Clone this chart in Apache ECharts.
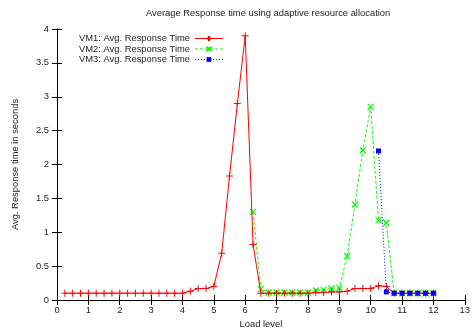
<!DOCTYPE html>
<html>
<head>
<meta charset="utf-8">
<script src="https://cdn.jsdelivr.net/npm/echarts@6/dist/echarts.min.js"></script>
<style>
  html, body { margin: 0; padding: 0; background: #fff; }
  #chart { width: 473px; height: 335px; }
</style>
</head>
<body>
<div id="chart"></div>
<script>
// load levels + response times
var vm1X = [0.25, 0.5, 0.75, 1, 1.25, 1.5, 1.75, 2, 2.25, 2.5, 2.75, 3, 3.25, 3.5, 3.75, 4,
  4.25, 4.5, 4.75, 5, 5.25, 5.5, 5.75, 6, 6.25, 6.5, 6.75, 7, 7.25, 7.5, 7.75, 8,
  8.25, 8.5, 8.75, 9, 9.25, 9.5, 9.75, 10, 10.25, 10.5, 10.75, 11, 11.25, 11.5, 11.75, 12];
var vm1Y = [0.1, 0.1, 0.1, 0.1, 0.1, 0.1, 0.1, 0.1, 0.1, 0.1, 0.1, 0.1, 0.1, 0.1, 0.1, 0.1,
  0.13, 0.17, 0.17, 0.2, 0.69, 1.83, 2.9, 3.9, 0.82, 0.1, 0.1, 0.1, 0.1, 0.1, 0.1, 0.1,
  0.11, 0.11, 0.12, 0.12, 0.13, 0.17, 0.17, 0.17, 0.21, 0.2, 0.1, 0.1, 0.1, 0.1, 0.1, 0.1];

var vm2X = [6.25, 6.5, 6.75, 7, 7.25, 7.5, 7.75, 8, 8.25, 8.5, 8.75, 9, 9.25, 9.5, 9.75, 10,
  10.25, 10.5, 10.75, 11, 11.25, 11.5, 11.75, 12];
var vm2Y = [1.3, 0.16, 0.11, 0.11, 0.11, 0.11, 0.11, 0.11, 0.14, 0.15, 0.17, 0.18, 0.65, 1.41, 2.21, 2.85,
  1.18, 1.14, 0.1, 0.1, 0.1, 0.1, 0.1, 0.1];

var vm3X = [10.25, 10.5, 10.75, 11, 11.25, 11.5, 11.75, 12];
var vm3Y = [2.2, 0.12, 0.1, 0.1, 0.1, 0.1, 0.1, 0.1];

var seriesNames = ['VM1: Avg. Response Time', 'VM2: Avg. Response Time', 'VM3: Avg. Response Time'];

function pairs(xs, ys) {
  return xs.map(function (x, i) { return [x, ys[i]]; });
}

var font = 'Liberation Sans, Arial, sans-serif';
var fs = 9.4;
var plusPath = 'path://M0,5L10,5M5,0L5,10';
var crossPath = 'path://M0,0L10,10M10,0L0,10';

var chart = echarts.init(document.getElementById('chart'));
var option = {
  animation: false,
  backgroundColor: '#fff',
  title: {
    text: 'Average Response time using adaptive resource allocation',
    left: 141,
    top: 4,
    textStyle: { fontSize: fs, fontWeight: 'normal', color: '#222', fontFamily: font }
  },
  legend: {
    data: seriesNames,
    orient: 'vertical',
    left: 74,
    top: 29,
    align: 'right',
    itemWidth: 28,
    itemHeight: 6,
    itemGap: 1.5,
    lineStyle: { width: 1 },
    textStyle: { fontSize: fs, color: '#222', fontFamily: font, lineHeight: 8 }
  },
  grid: { left: 57, right: 5, top: 29, bottom: 35 },
  xAxis: [
    {
      type: 'value', min: 0, max: 13, interval: 1,
      name: 'Load level', nameLocation: 'middle', nameGap: 20,
      nameTextStyle: { fontSize: fs, color: '#222', fontFamily: font },
      axisLine: { onZero: false, lineStyle: { color: '#000', width: 1 } },
      axisTick: { inside: true, length: 5, lineStyle: { color: '#000' } },
      axisLabel: { fontSize: fs, color: '#222', fontFamily: font, margin: 6 },
      splitLine: { show: false }
    },
    {
      type: 'value', min: 0, max: 13, interval: 1, position: 'top',
      axisLine: { lineStyle: { color: '#000', width: 1 } },
      axisTick: { inside: true, length: 5, lineStyle: { color: '#000' } },
      axisLabel: { show: false },
      splitLine: { show: false }
    }
  ],
  yAxis: [
    {
      type: 'value', min: 0, max: 4, interval: 0.5,
      name: 'Avg. Response time in seconds', nameLocation: 'middle', nameGap: 37,
      nameTextStyle: { fontSize: fs, color: '#222', fontFamily: font },
      axisLine: { show: true, lineStyle: { color: '#000', width: 1 } },
      axisTick: { show: true, inside: true, length: 5, lineStyle: { color: '#000' } },
      axisLabel: { fontSize: fs, color: '#222', fontFamily: font, margin: 8 },
      splitLine: { show: false }
    },
    {
      type: 'value', min: 0, max: 4, interval: 0.5, position: 'right',
      axisLine: { show: true, lineStyle: { color: '#000', width: 1 } },
      axisTick: { show: true, inside: true, length: 5, lineStyle: { color: '#000' } },
      axisLabel: { show: false },
      splitLine: { show: false }
    }
  ],
  series: [
    {
      name: seriesNames[0],
      type: 'line',
      data: pairs(vm1X, vm1Y),
      showAllSymbol: true,
      symbol: plusPath,
      symbolSize: 7,
      itemStyle: { color: '#ff0000', borderColor: '#ff0000', borderWidth: 1 },
      lineStyle: { color: '#ff0000', width: 1 },
      z: 3
    },
    {
      name: seriesNames[1],
      type: 'line',
      data: pairs(vm2X, vm2Y),
      showAllSymbol: true,
      symbol: crossPath,
      symbolSize: 6,
      itemStyle: { color: '#00ff00', borderColor: '#00ff00', borderWidth: 1.2 },
      lineStyle: { color: '#00ff00', width: 1, type: [3, 2] },
      z: 2
    },
    {
      name: seriesNames[2],
      type: 'line',
      data: pairs(vm3X, vm3Y),
      showAllSymbol: true,
      symbol: 'rect',
      symbolSize: 5,
      itemStyle: { color: '#0000ff', borderColor: '#0000ff', borderWidth: 0 },
      lineStyle: { color: '#0000ff', width: 1, type: [1, 2] },
      z: 4
    }
  ]
};
chart.setOption(option);
</script>
</body>
</html>
